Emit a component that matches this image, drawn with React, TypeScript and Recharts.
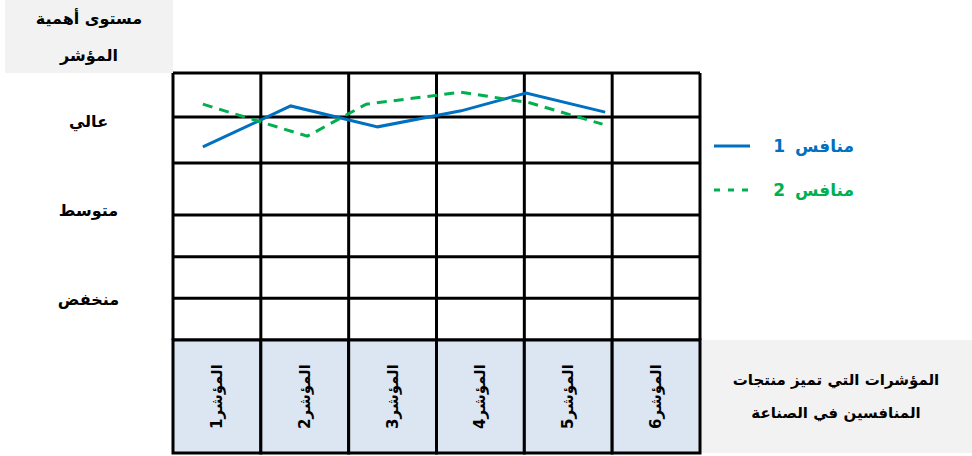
import { Line, LineChart, ReferenceLine, XAxis, YAxis } from 'recharts'

// Indicators along the bottom row and importance levels down the side
const indicators = ['المؤشر1', 'المؤشر2', 'المؤشر3', 'المؤشر4', 'المؤشر5', 'المؤشر6']
const indicatorTicks = [0.5, 1.5, 2.5, 3.5, 4.5, 5.5]
const levels = ['منخفض', 'متوسط', 'عالي']
const levelTicks = [1, 3, 5]

// table rules, in axis units
const columnRules = [0, 1, 2, 3, 4, 5, 6]
const rowRules = [0, 0.94, 1.87, 2.81, 3.98, 5.01, 6]

// competitor curves (free-hand positions across the indicator columns)
const rival1X = [0.34, 1.34, 2.33, 3.28, 4.02, 4.92]
const rival1Y = [4.34, 5.26, 4.79, 5.15, 5.55, 5.12]
const rival2X = [0.34, 1.53, 2.2, 3.28, 4.06, 4.89]
const rival2Y = [5.3, 4.58, 5.3, 5.57, 5.33, 4.85]

const rivalNames = ['منافس 1', 'منافس 2']
const BLUE = '#0070c0'
const GREEN = '#00b050'

const rival1 = rival1X.map((x, i) => ({ x, y: rival1Y[i] }))
const rival2 = rival2X.map((x, i) => ({ x, y: rival2Y[i] }))

const W = 972
const H = 456
const LEFT = 173
const RIGHT = 272
const TOP = 73
const BOTTOM = 116
const BAND_H = 113
const COL_W = (W - LEFT - RIGHT) / indicators.length
const FONT = '"DejaVu Sans", sans-serif'

const IndicatorTick = ({ x, y, payload }: any) => {
	const i = indicatorTicks.indexOf(payload.value)
	return (
		<g>
			<rect
				x={x - COL_W / 2}
				y={y}
				width={COL_W}
				height={BAND_H}
				fill='#dce6f2'
				stroke='#000'
				strokeWidth={3}
			/>
			<text
				transform={`translate(${x},${y + BAND_H / 2}) rotate(-90)`}
				textAnchor='middle'
				dominantBaseline='central'
				fontFamily={FONT}
				fontWeight='bold'
				fontSize={15}
				fill='#000'
			>
				{indicators[i]}
			</text>
		</g>
	)
}

const LevelTick = ({ x, y, payload }: any) => {
	const i = levelTicks.indexOf(payload.value)
	return (
		<text
			x={x - LEFT / 2 + 2}
			y={y + 4}
			textAnchor='middle'
			dominantBaseline='central'
			fontFamily={FONT}
			fontWeight='bold'
			fontSize={16}
			fill='#000'
		>
			{levels[i]}
		</text>
	)
}

const RivalLegend = () => (
	<div
		style={{
			position: 'absolute',
			left: 712,
			top: 124,
			width: 142,
			fontFamily: FONT,
			fontWeight: 'bold',
			fontSize: 17,
		}}
	>
		{rivalNames.map((name, i) => (
			<div
				key={name}
				style={{
					display: 'flex',
					justifyContent: 'space-between',
					alignItems: 'center',
					height: 44,
					color: i === 0 ? BLUE : GREEN,
				}}
			>
				<svg width={40} height={6}>
					<line
						x1={2}
						y1={3}
						x2={38}
						y2={3}
						stroke={i === 0 ? BLUE : GREEN}
						strokeWidth={3}
						strokeDasharray={i === 0 ? undefined : '6 8'}
					/>
				</svg>
				<span style={{ direction: 'rtl', wordSpacing: 4 }}>{name}</span>
			</div>
		))}
	</div>
)

const boxText: React.CSSProperties = {
	position: 'absolute',
	background: '#f2f2f2',
	display: 'flex',
	flexDirection: 'column',
	justifyContent: 'center',
	alignItems: 'center',
	fontFamily: FONT,
	fontWeight: 'bold',
	fontSize: 16,
	direction: 'rtl',
	color: '#000',
}

export default function App() {
	return (
		<div style={{ position: 'absolute', left: 0, top: 0, width: W, height: H, background: '#fff' }}>
			<div style={{ ...boxText, left: 5, top: 0, width: LEFT - 5, height: TOP, lineHeight: '37px' }}>
				<div>مستوى أهمية</div>
				<div>المؤشر</div>
			</div>
			<div
				style={{
					...boxText,
					left: W - RIGHT,
					top: H - BOTTOM,
					width: RIGHT,
					height: BAND_H,
					lineHeight: '33px',
					fontSize: 15,
				}}
			>
				<div>المؤشرات التي تميز منتجات</div>
				<div>المنافسين في الصناعة</div>
			</div>
			<div style={{ position: 'absolute', left: 0, top: 0 }}>
				<LineChart width={W} height={H} margin={{ top: TOP, right: RIGHT, bottom: 0, left: 0 }}>
					<XAxis
						type='number'
						dataKey='x'
						domain={[0, 6]}
						ticks={indicatorTicks}
						interval={0}
						axisLine={false}
						tickLine={false}
						tickSize={0}
						tickMargin={0}
						height={BOTTOM}
						tick={<IndicatorTick />}
					/>
					<YAxis
						type='number'
						dataKey='y'
						domain={[0, 6]}
						ticks={levelTicks}
						axisLine={false}
						tickLine={false}
						tickSize={0}
						tickMargin={0}
						width={LEFT}
						tick={<LevelTick />}
					/>
					{rowRules.map(v => (
						<ReferenceLine key={`r${v}`} y={v} stroke='#000' strokeWidth={3} />
					))}
					{columnRules.map(v => (
						<ReferenceLine key={`c${v}`} x={v} stroke='#000' strokeWidth={3} />
					))}
					<Line
						data={rival1}
						dataKey='y'
						type='linear'
						stroke={BLUE}
						strokeWidth={3}
						dot={false}
						isAnimationActive={false}
					/>
					<Line
						data={rival2}
						dataKey='y'
						type='linear'
						stroke={GREEN}
						strokeWidth={3}
						strokeDasharray='10 7'
						dot={false}
						isAnimationActive={false}
					/>
				</LineChart>
			</div>
			<RivalLegend />
		</div>
	)
}
